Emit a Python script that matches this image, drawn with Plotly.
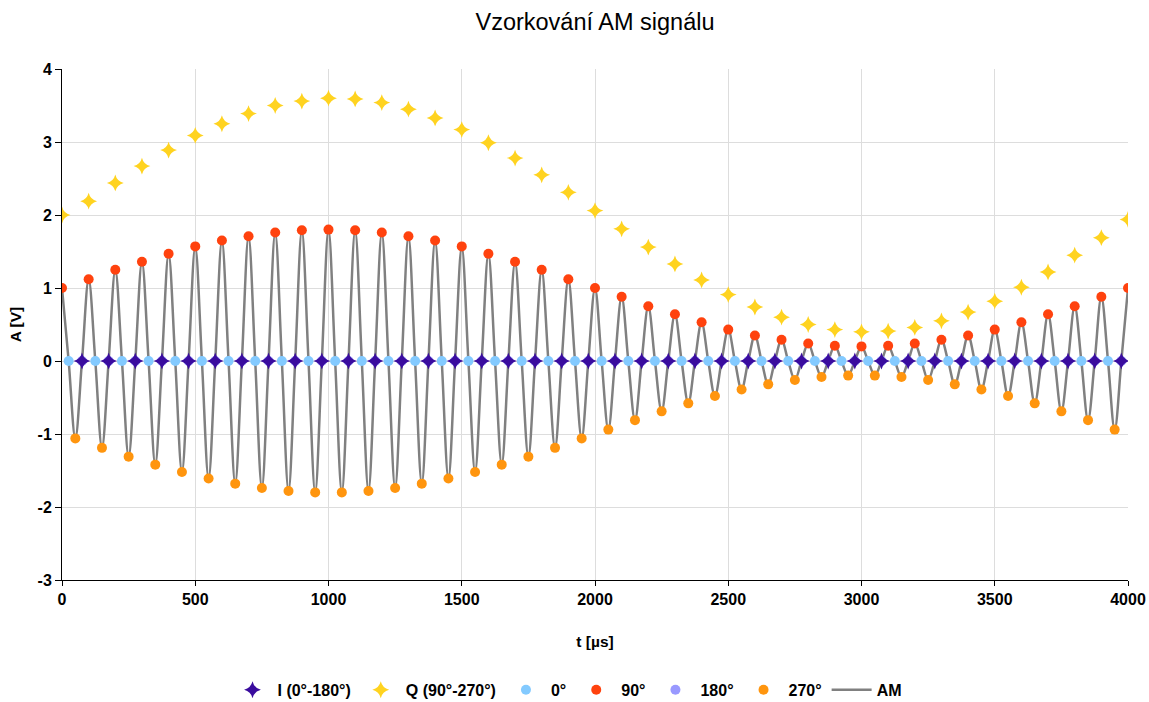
import plotly.graph_objects as go

# ---- data ----
t_90 = list(range(0, 4001, 100))
v_90 = [1.00, 1.12, 1.25, 1.36, 1.47, 1.57, 1.65, 1.71, 1.76, 1.79, 1.80,
        1.79, 1.76, 1.71, 1.65, 1.57, 1.47, 1.36, 1.25, 1.12, 1.00,
        0.88, 0.75, 0.64, 0.53, 0.43, 0.35, 0.29, 0.24, 0.21, 0.20,
        0.21, 0.24, 0.29, 0.35, 0.43, 0.53, 0.64, 0.75, 0.88, 1.00]

t_270 = list(range(50, 4000, 100))
v_270 = [-1.06, -1.19, -1.31, -1.42, -1.52, -1.61, -1.68, -1.74, -1.78, -1.80,
         -1.80, -1.78, -1.74, -1.68, -1.61, -1.52, -1.42, -1.31, -1.19, -1.06,
         -0.94, -0.81, -0.69, -0.58, -0.48, -0.39, -0.32, -0.26, -0.22, -0.20,
         -0.20, -0.22, -0.26, -0.32, -0.39, -0.48, -0.58, -0.69, -0.81, -0.94]

t_0 = list(range(25, 4000, 100))
v_0 = [0.0] * len(t_0)

t_180 = list(range(75, 4000, 100))
v_180 = [0.0] * len(t_180)

t_I = list(range(75, 4000, 100))
v_I = [0.0] * len(t_I)

t_Q = list(range(0, 4001, 100))
v_Q = [2.00, 2.19, 2.44, 2.67, 2.89, 3.09, 3.25, 3.39, 3.50, 3.56, 3.60,
       3.59, 3.54, 3.45, 3.33, 3.17, 2.99, 2.78, 2.55, 2.31, 2.06,
       1.81, 1.56, 1.33, 1.11, 0.91, 0.74, 0.60, 0.50, 0.43, 0.40,
       0.41, 0.46, 0.55, 0.67, 0.82, 1.01, 1.22, 1.45, 1.69, 1.94]

x_ticks = [0, 500, 1000, 1500, 2000, 2500, 3000, 3500, 4000]
y_ticks = [-3, -2, -1, 0, 1, 2, 3, 4]
y_tick_labels = ["-3", "-2", "-1", "0", "1", "2", "3", "4"]

# AM line passes through all samples (merged in time order)
am_pts = sorted(list(zip(t_90, v_90)) + list(zip(t_270, v_270)) +
                list(zip(t_0, v_0)) + list(zip(t_180, v_180)))
t_am = [p[0] for p in am_pts]
v_am = [p[1] for p in am_pts]

FONT = "Liberation Sans, Arial, sans-serif"

fig = go.Figure()
fig.add_trace(go.Scatter(x=t_am, y=v_am, mode="lines", name="AM",
                         line=dict(color="#808080", width=2.5, shape="spline", smoothing=1.0),
                         legendrank=7))
fig.add_trace(go.Scatter(x=t_0, y=v_0, mode="markers", name="0°",
                         marker=dict(color="#83caff", size=10, symbol="circle"),
                         legendrank=3))
fig.add_trace(go.Scatter(x=t_90, y=v_90, mode="markers", name="90°",
                         marker=dict(color="#ff420e", size=10, symbol="circle"),
                         legendrank=4))
fig.add_trace(go.Scatter(x=t_180, y=v_180, mode="markers", name="180°",
                         marker=dict(color="#9999ff", size=10, symbol="circle"),
                         legendrank=5))
fig.add_trace(go.Scatter(x=t_270, y=v_270, mode="markers", name="270°",
                         marker=dict(color="#ff950e", size=10, symbol="circle"),
                         legendrank=6))
fig.add_trace(go.Scatter(x=t_I, y=v_I, mode="markers", name="I (0°-180°)",
                         marker=dict(color="#3a0c9e", size=12, symbol="star-diamond"),
                         legendrank=1))
fig.add_trace(go.Scatter(x=t_Q, y=v_Q, mode="markers", name="Q (90°-270°)",
                         marker=dict(color="#ffd320", size=12, symbol="star-diamond"),
                         legendrank=2))

fig.update_layout(
    width=1149, height=702,
    margin=dict(l=62, r=21, t=69, b=122, autoexpand=False),
    paper_bgcolor="white", plot_bgcolor="white",
    font=dict(family=FONT, color="#000000", size=15),
    title=dict(text="Vzorkování AM signálu", x=0.5, xref="paper", xanchor="center",
               y=1 - 22 / 702, yref="container", yanchor="middle",
               font=dict(family=FONT, size=23.5, color="#000000")),
    showlegend=True,
    legend=dict(orientation="h", x=(567.5 - 62) / 1066, xref="paper", xanchor="center",
                y=-0.215, yanchor="middle", itemwidth=40,
                font=dict(family=FONT, size=16, color="#000000", weight="bold")),
)
fig.update_xaxes(range=[0, 4000], tickvals=x_ticks, showgrid=True, gridcolor="#dddddd",
                 gridwidth=1, zeroline=False, showline=True, linecolor="#000000", linewidth=1,
                 ticks="outside", ticklen=5, tickcolor="#000000",
                 tickfont=dict(family=FONT, size=16, weight="bold"),
                 title=dict(text="t [µs]", standoff=28,
                            font=dict(family=FONT, size=15.5, weight="bold")))
fig.update_yaxes(range=[-3, 4], tickvals=y_ticks, ticktext=y_tick_labels, showgrid=True,
                 gridcolor="#dddddd", gridwidth=1, zeroline=False, showline=True,
                 linecolor="#000000", linewidth=1, ticks="outside", ticklen=6,
                 tickcolor="#000000",
                 tickfont=dict(family=FONT, size=16, weight="bold"),
                 title=dict(text="A [V]", standoff=12,
                            font=dict(family=FONT, size=15.5, weight="bold")))

fig.write_html("out.html")
